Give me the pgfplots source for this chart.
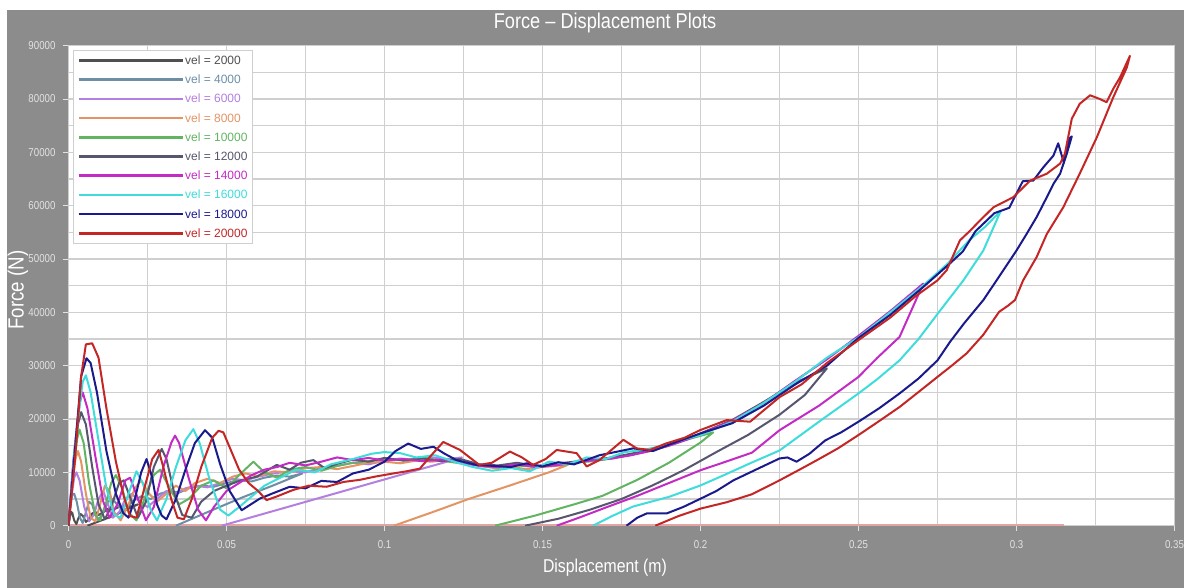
\documentclass[border=0pt]{standalone}
\usepackage{pgfplots}
\pgfplotsset{compat=1.18}
\usepackage{fontspec}
\setmainfont{Liberation Sans}
\newfontfamily\narrowfont{Liberation Sans}[FakeStretch=0.85]

\definecolor{bggray}{HTML}{8C8C8C}
\definecolor{gridgray}{HTML}{CFCFCF}
\definecolor{ticktext}{HTML}{E2E2E2}
\definecolor{zeroline}{HTML}{E4A4A4}
\definecolor{c2000}{HTML}{505050}
\definecolor{c4000}{HTML}{6D8FA6}
\definecolor{c6000}{HTML}{B37FE0}
\definecolor{c8000}{HTML}{E49464}
\definecolor{c10000}{HTML}{62B462}
\definecolor{c12000}{HTML}{56566E}
\definecolor{c14000}{HTML}{C42AC4}
\definecolor{c16000}{HTML}{3FDCDC}
\definecolor{c18000}{HTML}{1A1A8C}
\definecolor{c20000}{HTML}{C42626}

\begin{document}
\begin{tikzpicture}
\path[use as bounding box] (0,0) rectangle (592pt,294pt);
\fill[white] (0,0) rectangle (592pt,294pt);
\fill[bggray] (3.5pt,0) rectangle (592pt,289pt);
\node[text=white, font=\narrowfont\fontsize{10.7}{12}\selectfont] at (302.5pt,282.5pt) {Force – Displacement Plots};
\node[text=white, font=\narrowfont\fontsize{9.3}{10}\selectfont] at (302.5pt,10pt) {Displacement (m)};
\node[text=white, rotate=90, font=\narrowfont\fontsize{11}{12}\selectfont] at (9pt,149pt) {Force (N)};

\begin{axis}[
  at={(34.25pt,31.15pt)}, anchor=south west,
  scale only axis, width=553pt, height=240pt,
  xmin=0, xmax=0.35, ymin=0, ymax=90000,
  xtick={0,0.05,0.1,0.15,0.2,0.25,0.3,0.35},
  xticklabels={0,0.05,0.1,0.15,0.2,0.25,0.3,0.35},
  ytick={0,10000,20000,30000,40000,50000,60000,70000,80000,90000},
  minor x tick num=1, minor y tick num=1,
  grid=both,
  major grid style={draw=gridgray, line width=0.6pt},
  minor grid style={draw=gridgray, line width=0.6pt},
  axis background/.style={fill=white},
  axis line style={draw=gridgray},
  tick pos=left, tick align=outside,
  major tick length=2.5pt, minor tick length=0pt,
  tick style={draw=ticktext, line width=0.4pt},
  scaled ticks=false,
  yticklabel style={/pgf/number format/1000 sep={}, /pgf/number format/assume math mode=true, xshift=-0.5pt},
  xticklabel style={yshift=-1.5pt},
  ticklabel style={text=ticktext, font=\narrowfont\fontsize{5.7}{6}\selectfont},
  every axis plot/.append style={line width=1pt, line join=round},
  legend image code/.code={\draw[#1, line width=1.3pt] (0pt,0pt) -- (52pt,0pt);},
  legend cell align=left,
  legend style={at={(0.004,0.991)}, anchor=north west, draw=gridgray, fill=white,
    font=\fontsize{6}{7}\selectfont, row sep=3.6pt, inner xsep=2pt, inner ysep=2pt,
    nodes={inner sep=0.6pt, text height=4.4pt, text depth=0.4pt}},
]

% zero-force trace along the axis
\addplot[color=zeroline, line width=1.4pt, forget plot] coordinates {(0,0) (0.315,0)};

% vel = 2000
\addplot[color=c2000] coordinates {
(0,0)(0.0004,1500)(0.0008,2600)(0.0012,2400)(0.0018,1000)(0.0025,300)(0.003,1200)(0.0038,2200)(0.0046,1800)(0.0055,700)(0.0065,1200)(0.0075,2300)(0.0085,2600)(0.0095,2000)(0.011,2500)(0.0125,3200)(0.014,3000)(0.016,3500)(0.018,3800)(0.02,3600)(0.022,4000)(0.014,1800)(0.006,0)};
\addlegendentry{\textcolor{c2000}{vel = 2000}}

% vel = 4000
\addplot[color=c4000] coordinates {
(0,0)(0.0006,3500)(0.0012,5800)(0.0018,6000)(0.0026,4500)(0.0036,1500)(0.0045,500)(0.0055,2500)(0.0065,4500)(0.0075,4000)(0.0085,2000)(0.0095,1000)(0.011,2500)(0.0125,4500)(0.014,5000)(0.016,3500)(0.018,3000)(0.02,4500)(0.023,5500)(0.026,5000)(0.029,6000)(0.032,6500)(0.035,6200)(0.038,7000)(0.042,7500)(0.046,7300)(0.05,8000)(0.054,8500)(0.058,8300)(0.062,9000)(0.066,9400)(0.07,9200)(0.074,9800)(0.065,7600)(0.055,5300)(0.045,2800)(0.034,0)};
\addlegendentry{\textcolor{c4000}{vel = 4000}}

% vel = 6000
\addplot[color=c6000] coordinates {
(0,0)(0.0008,5000)(0.0018,9000)(0.0025,10000)(0.0035,8500)(0.005,3500)(0.0065,800)(0.008,2000)(0.0095,5000)(0.011,6500)(0.0125,4000)(0.014,1500)(0.016,2500)(0.018,5000)(0.02,6000)(0.0225,4500)(0.025,3500)(0.028,5000)(0.031,6500)(0.034,6000)(0.037,7000)(0.04,7500)(0.044,7200)(0.048,8000)(0.052,8800)(0.056,8500)(0.06,9200)(0.065,9800)(0.07,10200)(0.075,10000)(0.08,10800)(0.085,11200)(0.09,11800)(0.095,11500)(0.1,12200)(0.105,12600)(0.11,12300)(0.115,12800)(0.12,12500)(0.1245,12800)(0.0485,0)};
\addlegendentry{\textcolor{c6000}{vel = 6000}}

% vel = 8000
\addplot[color=c8000] coordinates {
(0,0)(0.001,7000)(0.0022,12500)(0.003,14000)(0.004,12000)(0.0055,6000)(0.007,1500)(0.0085,800)(0.010,4000)(0.0115,7500)(0.013,6500)(0.0145,2500)(0.0165,1000)(0.019,4000)(0.021,7000)(0.023,8500)(0.0255,6000)(0.028,4500)(0.031,6000)(0.034,7500)(0.037,6500)(0.04,8000)(0.044,8800)(0.048,8000)(0.052,9200)(0.056,9800)(0.06,9300)(0.065,10200)(0.07,10000)(0.075,10800)(0.08,11000)(0.085,10600)(0.09,11200)(0.095,11800)(0.1,12000)(0.105,11700)(0.11,12200)(0.115,12000)(0.12,12400)(0.125,11800)(0.13,11200)(0.135,10800)(0.14,11000)(0.145,10600)(0.15,11000)(0.154,11200)(0.158,11400)(0.152,10000)(0.14,7600)(0.1266,5000)(0.115,2500)(0.103,0)};
\addlegendentry{\textcolor{c8000}{vel = 8000}}

% vel = 10000
\addplot[color=c10000] coordinates {
(0,0)(0.0012,9000)(0.0028,16500)(0.0035,18000)(0.0048,15500)(0.0065,8000)(0.0085,2000)(0.010,1000)(0.012,4500)(0.0135,8000)(0.015,9500)(0.017,7000)(0.019,2500)(0.0215,1000)(0.024,5000)(0.027,9500)(0.029,10500)(0.032,7000)(0.035,4000)(0.038,5000)(0.042,7500)(0.046,8500)(0.05,7000)(0.054,9500)(0.0585,12000)(0.062,10000)(0.066,9000)(0.07,10500)(0.075,11000)(0.08,10300)(0.085,11200)(0.09,11800)(0.095,12100)(0.1,12600)(0.106,12300)(0.112,12800)(0.118,12200)(0.124,11700)(0.13,11400)(0.136,11000)(0.142,11300)(0.148,11000)(0.154,11400)(0.16,11800)(0.166,12100)(0.172,12600)(0.178,13300)(0.184,14000)(0.19,15000)(0.196,16200)(0.204,17500)(0.2,15600)(0.19,11800)(0.18,8600)(0.169,5600)(0.16,4000)(0.1477,1900)(0.135,0)};
\addlegendentry{\textcolor{c10000}{vel = 10000}}

% vel = 12000
\addplot[color=c12000] coordinates {
(0,0)(0.0015,11000)(0.003,19000)(0.004,21300)(0.0055,19000)(0.0075,11000)(0.0095,4000)(0.0115,1200)(0.0135,3500)(0.016,8000)(0.0175,8500)(0.02,4500)(0.022,1500)(0.0245,4500)(0.027,11000)(0.0295,14400)(0.031,12500)(0.0335,6000)(0.036,2000)(0.039,1500)(0.042,4500)(0.046,6500)(0.05,7500)(0.0545,8500)(0.0596,9200)(0.0659,11400)(0.07,10500)(0.0735,11800)(0.0775,12300)(0.081,10800)(0.085,11600)(0.09,12400)(0.095,12000)(0.1,12700)(0.106,12200)(0.112,12600)(0.118,12100)(0.124,12500)(0.13,11500)(0.136,11300)(0.142,11800)(0.148,11200)(0.154,11600)(0.16,12000)(0.166,12300)(0.172,12800)(0.178,13500)(0.184,14200)(0.19,15100)(0.196,16300)(0.2,17300)(0.21,19800)(0.22,23200)(0.23,26800)(0.24,29500)(0.233,24500)(0.225,20800)(0.215,17000)(0.205,13800)(0.195,10500)(0.185,7600)(0.175,5000)(0.165,3000)(0.155,1300)(0.1445,0)};
\addlegendentry{\textcolor{c12000}{vel = 12000}}

% vel = 14000
\addplot[color=c14000] coordinates {
(0,0)(0.0015,12000)(0.0035,23000)(0.0045,25000)(0.006,22000)(0.0085,13000)(0.011,4500)(0.013,1500)(0.0155,4000)(0.018,8500)(0.0195,9000)(0.022,5000)(0.0245,1000)(0.027,3500)(0.030,11000)(0.0325,15500)(0.0337,16900)(0.035,15500)(0.038,9000)(0.041,3000)(0.0435,1000)(0.046,3500)(0.05,6500)(0.054,8000)(0.058,9500)(0.062,10500)(0.066,11000)(0.07,11800)(0.075,11300)(0.08,12000)(0.085,12800)(0.09,12300)(0.095,12700)(0.1,12200)(0.106,12500)(0.112,12100)(0.118,12400)(0.124,11900)(0.13,11200)(0.136,11000)(0.142,11500)(0.148,11000)(0.154,11300)(0.16,11800)(0.166,12300)(0.172,12600)(0.178,13200)(0.184,14000)(0.19,15000)(0.196,16200)(0.2,17200)(0.21,19700)(0.22,23000)(0.23,27200)(0.24,31200)(0.25,35600)(0.26,40200)(0.2705,45400)(0.263,35400)(0.256,31500)(0.25,27900)(0.2375,22500)(0.225,17900)(0.2163,13700)(0.208,12000)(0.2,10400)(0.19,8000)(0.18,5600)(0.17,3400)(0.162,1600)(0.1545,0)};
\addlegendentry{\textcolor{c14000}{vel = 14000}}

% vel = 16000
\addplot[color=c16000] coordinates {
(0,0)(0.002,15000)(0.0045,27000)(0.0055,28200)(0.007,25000)(0.0095,16000)(0.012,7000)(0.0145,2000)(0.0165,1500)(0.019,6000)(0.0215,10200)(0.0235,8000)(0.026,3000)(0.028,1000)(0.031,5000)(0.034,11000)(0.037,16000)(0.0395,18100)(0.0415,15500)(0.0445,9000)(0.048,3000)(0.0506,1900)(0.054,3500)(0.058,5500)(0.062,7500)(0.067,9000)(0.072,10500)(0.078,10000)(0.083,11500)(0.09,12500)(0.096,13500)(0.1,13800)(0.105,13600)(0.11,12800)(0.116,13200)(0.122,12000)(0.128,11000)(0.134,10300)(0.14,10800)(0.146,10200)(0.152,12000)(0.158,11500)(0.164,12800)(0.17,12500)(0.176,13800)(0.182,14200)(0.188,15000)(0.195,16200)(0.2,17000)(0.21,19500)(0.22,23000)(0.23,27000)(0.24,31500)(0.25,35300)(0.26,40000)(0.27,44800)(0.278,49000)(0.285,53500)(0.29,56000)(0.295,59000)(0.2895,51600)(0.2832,46000)(0.275,39700)(0.269,35000)(0.263,31000)(0.256,27500)(0.25,24800)(0.2375,19500)(0.225,14100)(0.2157,11700)(0.2075,9500)(0.1998,7500)(0.19,5400)(0.1787,3600)(0.172,1800)(0.166,0)};
\addlegendentry{\textcolor{c16000}{vel = 16000}}

% vel = 18000
\addplot[color=c18000] coordinates {
(0,0)(0.002,14000)(0.004,28000)(0.0057,31400)(0.007,30500)(0.009,25000)(0.012,14000)(0.015,6000)(0.0173,2400)(0.019,1500)(0.021,5000)(0.023,10000)(0.0247,12500)(0.0265,9000)(0.028,4000)(0.0295,1900)(0.031,1200)(0.034,5000)(0.037,10500)(0.040,15500)(0.0432,17900)(0.0455,16500)(0.048,11500)(0.051,6500)(0.0548,2900)(0.0606,5100)(0.0648,6100)(0.07,7300)(0.075,7000)(0.08,8400)(0.085,8200)(0.09,9800)(0.095,10500)(0.1,12000)(0.1035,14000)(0.1075,15400)(0.1115,14400)(0.1155,14800)(0.119,13500)(0.1228,12300)(0.129,11400)(0.135,11200)(0.14,11000)(0.145,11700)(0.15,11100)(0.155,11900)(0.16,11500)(0.168,13200)(0.1787,14500)(0.185,14000)(0.19,15200)(0.2,17300)(0.21,19200)(0.22,22500)(0.23,26500)(0.24,30000)(0.25,35200)(0.26,39500)(0.27,44500)(0.2786,49000)(0.283,51400)(0.287,55200)(0.293,58600)(0.2977,59600)(0.302,64600)(0.3053,64700)(0.3085,67200)(0.3117,69400)(0.3132,71700)(0.315,68000)(0.3165,72500)(0.3175,73000)(0.3159,69700)(0.3138,66000)(0.3117,64100)(0.3096,61600)(0.3064,57900)(0.3032,54700)(0.3,51600)(0.2937,46000)(0.2895,42300)(0.2835,38000)(0.279,34500)(0.275,31000)(0.269,27600)(0.263,24800)(0.2565,22000)(0.25,19500)(0.2445,17500)(0.2395,16000)(0.2345,13500)(0.2304,12000)(0.2275,12800)(0.225,12600)(0.2175,10500)(0.2104,8500)(0.205,6500)(0.1998,5000)(0.1945,3500)(0.1893,2300)(0.183,2300)(0.18,1500)(0.1766,0)};
\addlegendentry{\textcolor{c18000}{vel = 18000}}

% vel = 20000
\addplot[color=c20000] coordinates {
(0,0)(0.002,12000)(0.004,28000)(0.0055,34000)(0.0075,34200)(0.0095,31500)(0.012,22000)(0.015,12000)(0.0175,5500)(0.0195,1800)(0.0215,1500)(0.024,7000)(0.0265,12500)(0.0285,14200)(0.03,11000)(0.0325,5000)(0.0345,1500)(0.0365,1200)(0.039,5000)(0.042,11000)(0.0455,16500)(0.0475,17800)(0.049,17500)(0.0515,14000)(0.054,10500)(0.057,8000)(0.06,6500)(0.0627,4800)(0.066,5500)(0.0711,6700)(0.076,7500)(0.0817,7300)(0.087,8200)(0.0922,8600)(0.097,9200)(0.1028,9800)(0.107,10200)(0.1112,10700)(0.1145,13000)(0.1186,15700)(0.1239,14200)(0.130,11400)(0.134,11800)(0.1397,13900)(0.1435,12800)(0.147,11400)(0.151,12500)(0.1545,14200)(0.1608,13600)(0.164,11100)(0.168,12300)(0.1756,16100)(0.1798,14500)(0.184,14200)(0.189,15400)(0.195,16500)(0.1998,17900)(0.2083,19800)(0.2157,19500)(0.225,24100)(0.232,26500)(0.24,30500)(0.25,34800)(0.26,39000)(0.268,43000)(0.275,46000)(0.2779,47900)(0.2821,53500)(0.2853,55300)(0.2884,57200)(0.2927,59700)(0.299,61600)(0.3043,64700)(0.3096,66000)(0.3138,67900)(0.3153,69700)(0.3175,76300)(0.32,79100)(0.3233,80700)(0.3264,80000)(0.3285,79400)(0.3306,81900)(0.3328,84100)(0.3359,88100)(0.3349,85900)(0.3306,80300)(0.3254,72800)(0.32,66000)(0.3148,59700)(0.3096,54700)(0.3064,50400)(0.3021,46000)(0.2995,42300)(0.2972,41200)(0.2945,40100)(0.2895,35800)(0.2842,32300)(0.2795,30000)(0.275,27900)(0.2695,25300)(0.2631,22300)(0.2565,19600)(0.25,17000)(0.2435,14500)(0.2375,12500)(0.231,10400)(0.225,8500)(0.2163,5900)(0.2083,4400)(0.2,3200)(0.193,1800)(0.1857,0)};
\addlegendentry{\textcolor{c20000}{vel = 20000}}

\end{axis}
\end{tikzpicture}
\end{document}
